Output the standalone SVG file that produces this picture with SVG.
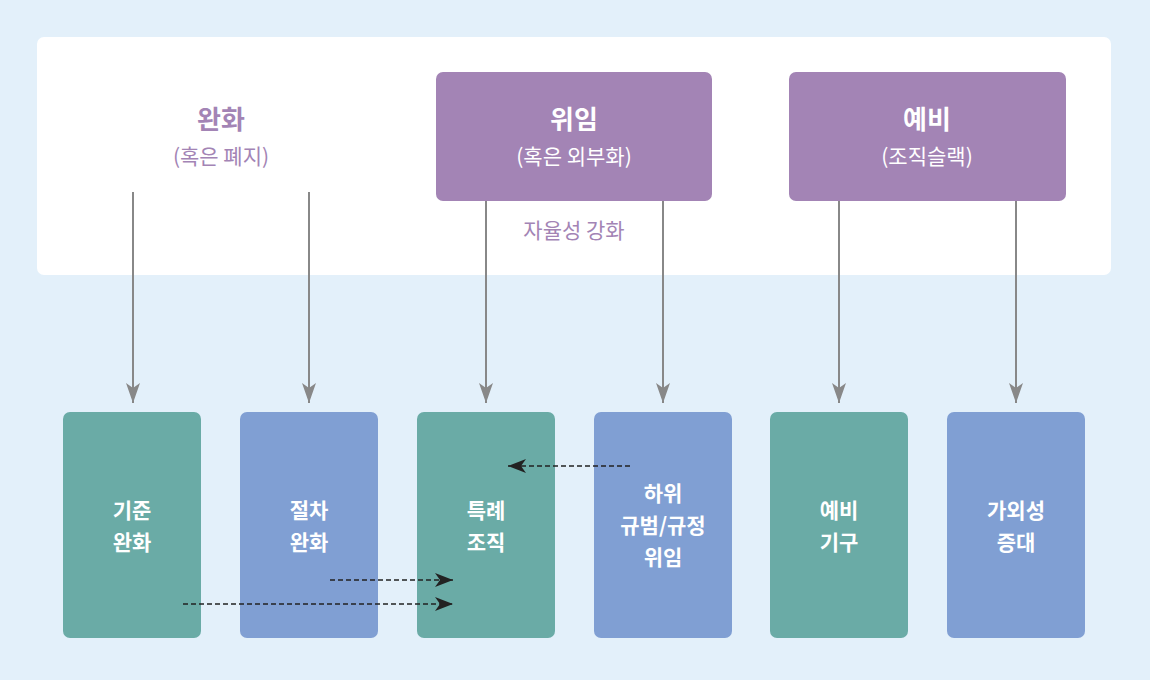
<svg xmlns="http://www.w3.org/2000/svg" width="1150" height="680" viewBox="0 0 1150 680">
<defs>
<marker id="ah" viewBox="0 0 20 14" refX="20" refY="7" markerWidth="20" markerHeight="14" markerUnits="userSpaceOnUse" orient="auto"><path d="M0,0 L20,7 L0,14 L5,7 Z" fill="#888888"/></marker>
<marker id="dh" viewBox="0 0 18 14" refX="18" refY="7" markerWidth="18" markerHeight="14" markerUnits="userSpaceOnUse" orient="auto"><path d="M0,0 L18,7 L0,14 L5,7 Z" fill="#222222"/></marker>
<style>
text{font-family:"Noto Sans CJK KR","Noto Sans",sans-serif;text-anchor:middle}
.t{font-size:26px;font-weight:bold}
.s{font-size:21px}
.p{fill:#a384b5}
.w{fill:#ffffff}
.b{font-size:21px;font-weight:bold;fill:#ffffff}
.teal{fill:#6aaba6}
.blue{fill:#809fd3}
.ln{stroke:#888888;stroke-width:2;fill:none;marker-end:url(#ah)}
.dl{stroke:#222222;stroke-width:1.3;stroke-dasharray:5,3;fill:none;marker-end:url(#dh)}
</style>
</defs>
<rect width="1150" height="680" fill="#e3f0fa"/>
<rect x="37" y="37" width="1074" height="238" rx="7" fill="#ffffff"/>
<g id="n-wanhwa">
<text class="t p" x="221" y="129">완화</text>
<text class="s p" x="221" y="164">(혹은 폐지)</text>
</g>
<g id="n-wiim">
<rect x="436" y="72" width="276" height="129" rx="7" fill="#a384b5"/>
<text class="t w" x="574" y="129">위임</text>
<text class="s w" x="574" y="164">(혹은 외부화)</text>
</g>
<g id="n-yebi">
<rect x="789" y="72" width="277" height="129" rx="7" fill="#a384b5"/>
<text class="t w" x="927" y="129">예비</text>
<text class="s w" x="927" y="164">(조직슬랙)</text>
</g>
<g id="n-label">
<text class="s p" x="574" y="238">자율성 강화</text>
</g>
<g id="n1"><rect class="teal" x="63" y="412" width="138" height="226" rx="7"/><text class="b" x="132" y="518">기준</text><text class="b" x="132" y="550">완화</text></g>
<g id="n2"><rect class="blue" x="240" y="412" width="138" height="226" rx="7"/><text class="b" x="309" y="518">절차</text><text class="b" x="309" y="550">완화</text></g>
<g id="n3"><rect class="teal" x="417" y="412" width="138" height="226" rx="7"/><text class="b" x="486" y="518">특례</text><text class="b" x="486" y="550">조직</text></g>
<g id="n4"><rect class="blue" x="594" y="412" width="138" height="226" rx="7"/><text class="b" x="663" y="501">하위</text><text class="b" x="663" y="533">규범/규정</text><text class="b" x="663" y="565">위임</text></g>
<g id="n5"><rect class="teal" x="770" y="412" width="138" height="226" rx="7"/><text class="b" x="839" y="518">예비</text><text class="b" x="839" y="550">기구</text></g>
<g id="n6"><rect class="blue" x="947" y="412" width="138" height="226" rx="7"/><text class="b" x="1016" y="518">가외성</text><text class="b" x="1016" y="550">증대</text></g>
<g id="connectors">
<line class="ln" x1="133" y1="192" x2="133" y2="403"/>
<line class="ln" x1="309" y1="192" x2="309" y2="403"/>
<line class="ln" x1="486" y1="201" x2="486" y2="403"/>
<line class="ln" x1="663" y1="201" x2="663" y2="403"/>
<line class="ln" x1="839" y1="201" x2="839" y2="403"/>
<line class="ln" x1="1016" y1="201" x2="1016" y2="403"/>
<line class="dl" x1="630" y1="466" x2="508" y2="466"/>
<line class="dl" x1="330" y1="580" x2="453" y2="580"/>
<line class="dl" x1="183" y1="604" x2="453" y2="604"/>
</g>
</svg>
